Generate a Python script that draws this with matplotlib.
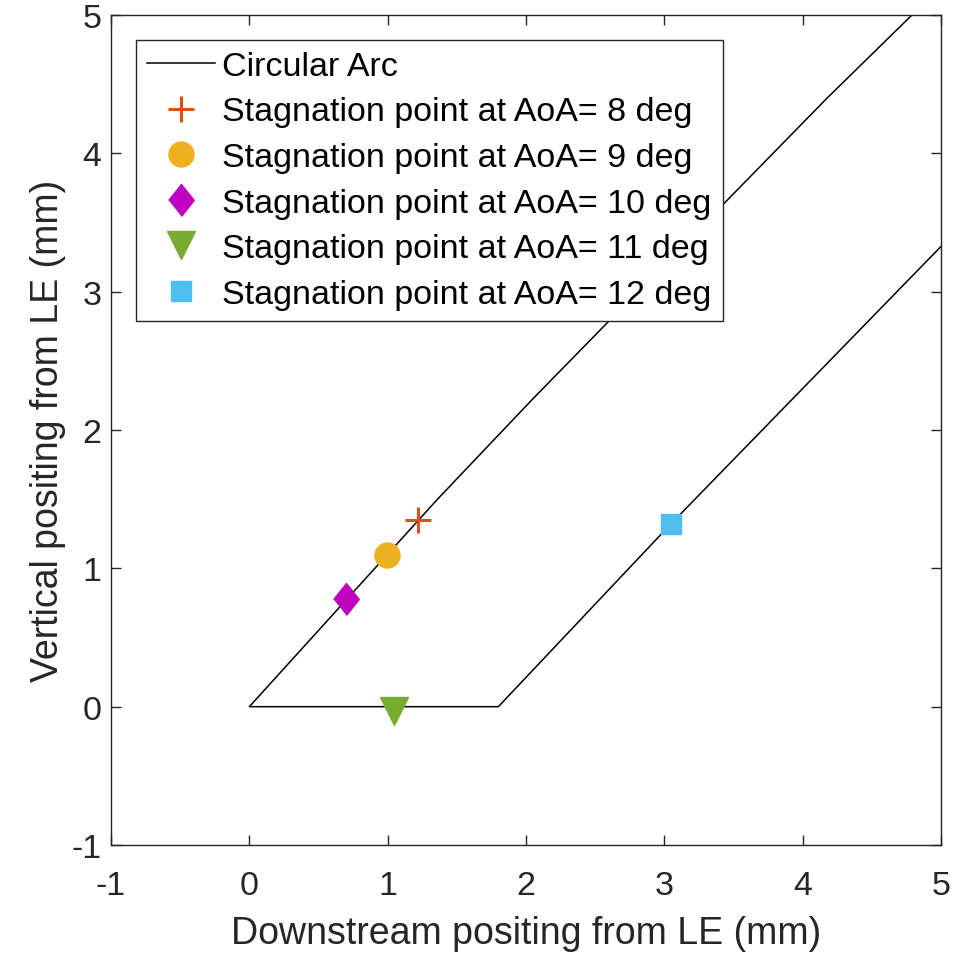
"""Stagnation points on a circular-arc leading edge for AoA 8-12 deg."""

import matplotlib
matplotlib.use("Agg")
import matplotlib.pyplot as plt  # noqa: E402

# arc geometry (mm)
arc_upper_x = [4.79, 4.175, 2.051, 1.364, 0.379, 0.0]
arc_upper_y = [5.0, 4.398, 2.227, 1.504, 0.418, 0.0]
arc_base_x = [0.0, 1.80]
arc_base_y = [0.0, 0.0]
arc_lower_x = [1.80, 3.049, 5.0]
arc_lower_y = [0.0, 1.323, 3.327]

# stagnation points
aoa = [8, 9, 10, 11, 12]
stag_x = [1.222, 0.998, 0.697, 1.049, 3.049]
stag_y = [1.347, 1.098, 0.775, -0.03, 1.323]

DIAMOND = [(0, -1), (0.8, 0), (0, 1), (-0.8, 0)]
styles = [
    dict(marker="+", ms=19, mew=2.2, color="#D95319"),
    dict(marker="o", ms=18, color="#EDB120"),
    dict(marker=DIAMOND, ms=23, color="#BF00BF"),
    dict(marker="v", ms=20, color="#77AC30"),
    dict(marker="s", ms=14, color="#4DBEEE"),
]

plt.rcParams["font.family"] = ["Liberation Sans", "DejaVu Sans"]
plt.rcParams["axes.unicode_minus"] = False
AX_COL = "#262626"

fig = plt.figure(figsize=(9.69, 9.54), dpi=100)
ax = fig.add_axes([0.1146, 0.1132, 0.8565, 0.87])

xs = arc_upper_x + arc_base_x[1:] + arc_lower_x[1:]
ys = arc_upper_y + arc_base_y[1:] + arc_lower_y[1:]
ax.plot(xs, ys, color="black", lw=1.1, label="Circular Arc")

for a, x, y, st in zip(aoa, stag_x, stag_y, styles):
    ax.plot([x], [y], ls="none", mec=st["color"], mfc=st["color"],
            marker=st["marker"], ms=st["ms"], mew=st.get("mew", 1.0),
            label=f"Stagnation point at AoA= {a} deg")

ax.set_xlim(-1, 5)
ax.set_ylim(-1, 5)
ax.set_xticks(range(-1, 6))
ax.set_yticks(range(-1, 6))
ax.tick_params(direction="in", length=7, width=1.0, colors=AX_COL,
               labelsize=24.5, top=True, right=True)
ax.tick_params(axis="x", pad=18)
ax.tick_params(axis="y", pad=7)
for sp in ax.spines.values():
    sp.set_color(AX_COL)
    sp.set_linewidth(1.0)

ax.set_xlabel("Downstream positing from LE (mm)", fontsize=27, color=AX_COL)
ax.set_ylabel("Vertical positing from LE (mm)", fontsize=27, color=AX_COL)
ax.xaxis.set_label_coords(0.5, -0.084)
ax.yaxis.set_label_coords(-0.054, 0.5)

leg = ax.legend(loc="upper left", bbox_to_anchor=(0.03, 0.97), borderaxespad=0,
                fontsize=24.5, fancybox=False, framealpha=1, edgecolor=AX_COL,
                handlelength=2.0, handletextpad=0.22, labelspacing=0.43,
                borderpad=0.32)
leg.get_frame().set_linewidth(1.0)
for t in leg.get_texts():
    t.set_color("black")

fig.savefig("out.png", dpi=100)
